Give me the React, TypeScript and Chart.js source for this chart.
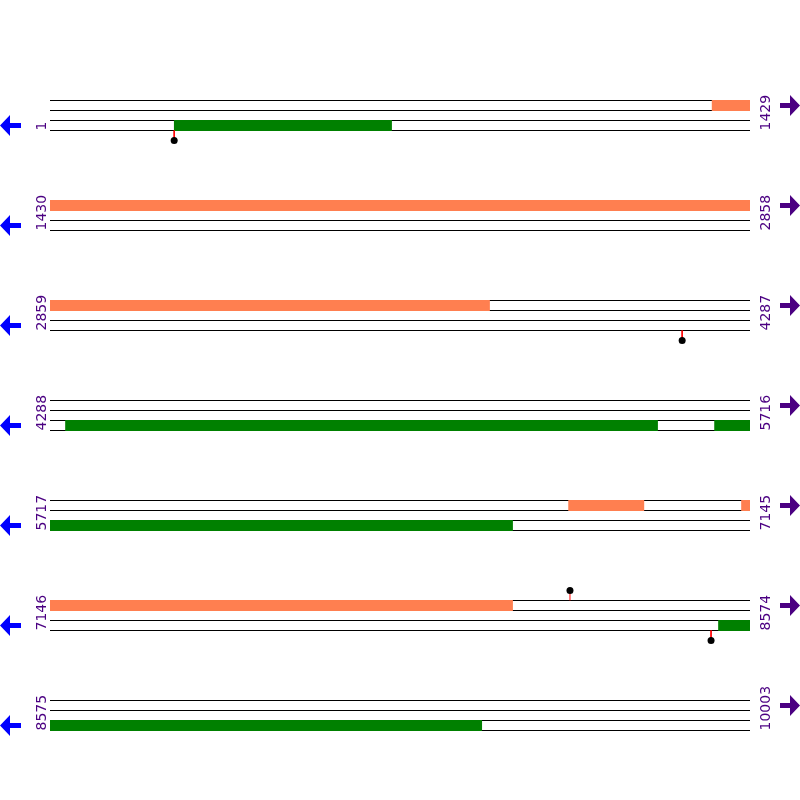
import React, { useEffect, useRef } from "react";
import { Chart, registerables } from "chart.js";

Chart.register(...registerables);

// ---- data ----
const SEQ_LENGTH = 10003;
const ROW_LENGTH = 1429;
const rowStarts = [1, 1430, 2859, 4288, 5717, 7146, 8575];
const rowEnds = [1429, 2858, 4287, 5716, 7145, 8574, 10003];
// forward-strand features (orange), [start, end]
const forwardFeatures: [number, number][] = [
  [1352, 3756],
  [6775, 6929],
  [7128, 8090],
];
// reverse-strand features (green), [start, end]
const reverseFeatures: [number, number][] = [
  [254, 698],
  [4319, 5528],
  [5644, 6661],
  [8510, 9456],
];
// single-site markers
const forwardSites = [8207];
const reverseSites = [254, 4149, 8495];

// ---- styles ----
const ORANGE = "#FF7F50";
const GREEN = "#008000";
const PURPLE = "#4B0082";
const BLUE = "#0000FF";
const LABEL_FONT = "14px 'DejaVu Sans'";

function rowBase(r: number) {
  return r + 1;
}

function featureSegments(features: [number, number][]) {
  const segs: { row: number; x0: number; x1: number }[] = [];
  features.forEach(([s, e]) => {
    rowStarts.forEach((start, r) => {
      const end = Math.min(rowEnds[r], SEQ_LENGTH);
      if (e < start || s > end) return;
      const a = Math.max(s, start) - start;
      const b = Math.min(e, end) - start + 1;
      segs.push({ row: r, x0: a, x1: b });
    });
  });
  return segs;
}

function rowOf(pos: number) {
  for (let r = 0; r < rowStarts.length; r++) {
    if (pos >= rowStarts[r] && pos <= rowEnds[r]) return r;
  }
  return -1;
}

const mapPlugin = {
  id: "mapDecor",
  afterDraw(chart: any) {
    const ctx = chart.ctx;
    const xs = chart.scales.x;
    const ys = chart.scales.y;
    rowStarts.forEach((start, r) => {
      const xl = xs.getPixelForValue(0);
      const xr = xs.getPixelForValue(rowEnds[r] - start + 1);
      const yBottom = ys.getPixelForValue(rowBase(r) + 0.3);
      // labels
      ctx.save();
      ctx.fillStyle = PURPLE;
      ctx.font = LABEL_FONT;
      ctx.textAlign = "left";
      ctx.textBaseline = "alphabetic";
      ctx.translate(xl - 4, yBottom);
      ctx.rotate(-Math.PI / 2);
      ctx.fillText(String(start), 0, 0);
      ctx.restore();
      ctx.save();
      ctx.fillStyle = PURPLE;
      ctx.font = LABEL_FONT;
      ctx.textAlign = "left";
      ctx.textBaseline = "alphabetic";
      ctx.translate(xr + 20, yBottom);
      ctx.rotate(-Math.PI / 2);
      ctx.fillText(String(rowEnds[r]), 0, 0);
      ctx.restore();
      // left (reverse) arrow
      const yl = ys.getPixelForValue(rowBase(r) + 0.25);
      ctx.save();
      ctx.fillStyle = BLUE;
      ctx.beginPath();
      ctx.moveTo(xl - 50, yl);
      ctx.lineTo(xl - 40, yl - 10.5);
      ctx.lineTo(xl - 40, yl - 2.5);
      ctx.lineTo(xl - 29, yl - 2.5);
      ctx.lineTo(xl - 29, yl + 2.5);
      ctx.lineTo(xl - 40, yl + 2.5);
      ctx.lineTo(xl - 40, yl + 10.5);
      ctx.closePath();
      ctx.fill();
      ctx.restore();
      // right (forward) arrow
      const yr = ys.getPixelForValue(rowBase(r) + 0.05);
      ctx.save();
      ctx.fillStyle = PURPLE;
      ctx.beginPath();
      ctx.moveTo(xr + 50, yr);
      ctx.lineTo(xr + 40, yr - 10.5);
      ctx.lineTo(xr + 40, yr - 2.5);
      ctx.lineTo(xr + 30, yr - 2.5);
      ctx.lineTo(xr + 30, yr + 2.5);
      ctx.lineTo(xr + 40, yr + 2.5);
      ctx.lineTo(xr + 40, yr + 10.5);
      ctx.closePath();
      ctx.fill();
      ctx.restore();
    });
  },
};

export default function App() {
  const ref = useRef<HTMLCanvasElement | null>(null);

  useEffect(() => {
    if (!ref.current) return;
    const datasets: any[] = [];

    // track lines
    rowStarts.forEach((start, r) => {
      const len = rowEnds[r] - start + 1;
      [0, 0.1, 0.2, 0.3].forEach((off) => {
        datasets.push({
          data: [
            { x: 0, y: rowBase(r) + off },
            { x: len, y: rowBase(r) + off },
          ],
          showLine: true,
          borderColor: "#000000",
          borderWidth: 1,
          pointRadius: 0,
          borderCapStyle: "butt",
          order: 4,
        });
      });
    });

    // features
    const addBars = (feats: [number, number][], color: string, off: number) => {
      featureSegments(feats).forEach((s) => {
        datasets.push({
          data: [
            { x: s.x0, y: rowBase(s.row) + off },
            { x: s.x1, y: rowBase(s.row) + off },
          ],
          showLine: true,
          borderColor: color,
          borderWidth: 11,
          borderCapStyle: "butt",
          pointRadius: 0,
          order: 3,
        });
      });
    };
    addBars(forwardFeatures, ORANGE, 0.05);
    addBars(reverseFeatures, GREEN, 0.25);

    // site markers
    const dots: { x: number; y: number }[] = [];
    const addSites = (sites: number[], lineOff: number, dotOff: number) => {
      sites.forEach((p) => {
        const r = rowOf(p);
        if (r < 0) return;
        const x = p - rowStarts[r] + 0.5;
        datasets.push({
          data: [
            { x, y: rowBase(r) + lineOff },
            { x, y: rowBase(r) + dotOff },
          ],
          showLine: true,
          borderColor: "#FF0000",
          borderWidth: 1,
          pointRadius: 0,
          order: 2,
        });
        dots.push({ x, y: rowBase(r) + dotOff });
      });
    };
    addSites(forwardSites, 0, -0.1);
    addSites(reverseSites, 0.3, 0.4);
    datasets.push({
      data: dots,
      showLine: false,
      pointRadius: 3.5,
      pointBackgroundColor: "#000000",
      pointBorderWidth: 0,
      order: 1,
    });

    const chart = new Chart(ref.current, {
      type: "scatter",
      data: { datasets },
      options: {
        animation: false,
        responsive: false,
        devicePixelRatio: 1,
        layout: { padding: 0, autoPadding: false },
        events: [],
        scales: {
          x: {
            type: "linear",
            display: false,
            min: (-ROW_LENGTH * 50) / 700,
            max: (ROW_LENGTH * 750) / 700,
          },
          y: {
            type: "linear",
            display: false,
            reverse: true,
            min: -0.005,
            max: 7.995,
          },
        },
        plugins: {
          legend: { display: false },
          tooltip: { enabled: false },
        },
      },
      plugins: [mapPlugin],
    });
    return () => chart.destroy();
  }, []);

  return (
    <div style={{ position: "absolute", left: 0, top: 0, width: 800, height: 800, background: "#ffffff" }}>
      <canvas ref={ref} width={800} height={800} />
    </div>
  );
}
